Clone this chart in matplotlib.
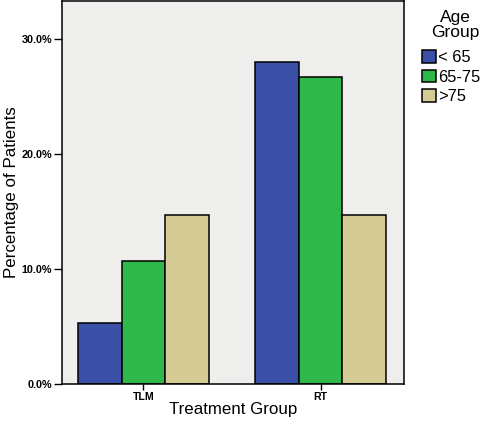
import matplotlib
matplotlib.use("Agg")
import matplotlib.pyplot as plt
from matplotlib.ticker import FuncFormatter, MultipleLocator
import numpy as np

plt.rcParams['font.family'] = ['Liberation Sans', 'DejaVu Sans']

groups = ["TLM", "RT"]
age_groups = ["< 65", "65-75", ">75"]
pct_lt65 = [5.3, 28.0]
pct_65_75 = [10.7, 26.7]
pct_gt75 = [14.7, 14.7]
colors = ["#3a4fa6", "#2eb74b", "#d5cb95"]

BAR_W = 0.246

fig = plt.figure(figsize=(4.82, 4.22), dpi=100)
ax = fig.add_axes([0.1286, 0.090, 0.7094, 0.9076])
ax.set_facecolor("#eeeeec")

x = np.arange(len(groups))
series = [pct_lt65, pct_65_75, pct_gt75]
for i, (vals, c, lab) in enumerate(zip(series, colors, age_groups)):
    ax.bar(x + (i - 1) * BAR_W, vals, width=BAR_W, color=c, edgecolor="black",
           linewidth=1.1, label=lab, zorder=2)

ax.set_xlim(-0.46, 1.47)
ax.set_ylim(0, 33.3)
ax.set_xticks(x)
ax.set_xticklabels(groups)
ax.yaxis.set_major_locator(MultipleLocator(10))
ax.yaxis.set_major_formatter(FuncFormatter(lambda v, p: f"{v:.1f}%"))
ax.tick_params(axis="y", direction="out", length=6, width=1, labelsize=7.8, pad=1)
ax.tick_params(axis="x", direction="out", length=4, width=1, labelsize=7.6, pad=2)
for lbl in ax.get_xticklabels() + ax.get_yticklabels():
    lbl.set_fontweight("bold")
for s in ax.spines.values():
    s.set_linewidth(1.1)

ax.set_xlabel("Treatment Group", fontsize=12.2, labelpad=0)
ax.set_ylabel("Percentage of Patients", fontsize=12.2, labelpad=2)

# legend title drawn separately so the gap below it can be set
fig.text(0.945, 1 - 25 / 422, "Age\nGroup", ha="center", va="center",
         fontsize=12.5, linespacing=1.0, multialignment="center")
leg = fig.legend(loc="upper left", bbox_to_anchor=(0.875, 0.881), frameon=False,
                 fontsize=11.9, handlelength=0.88, handleheight=0.82,
                 handletextpad=0.1, labelspacing=0.25, borderaxespad=0,
                 borderpad=0)

plt.savefig("out.png", dpi=100)
